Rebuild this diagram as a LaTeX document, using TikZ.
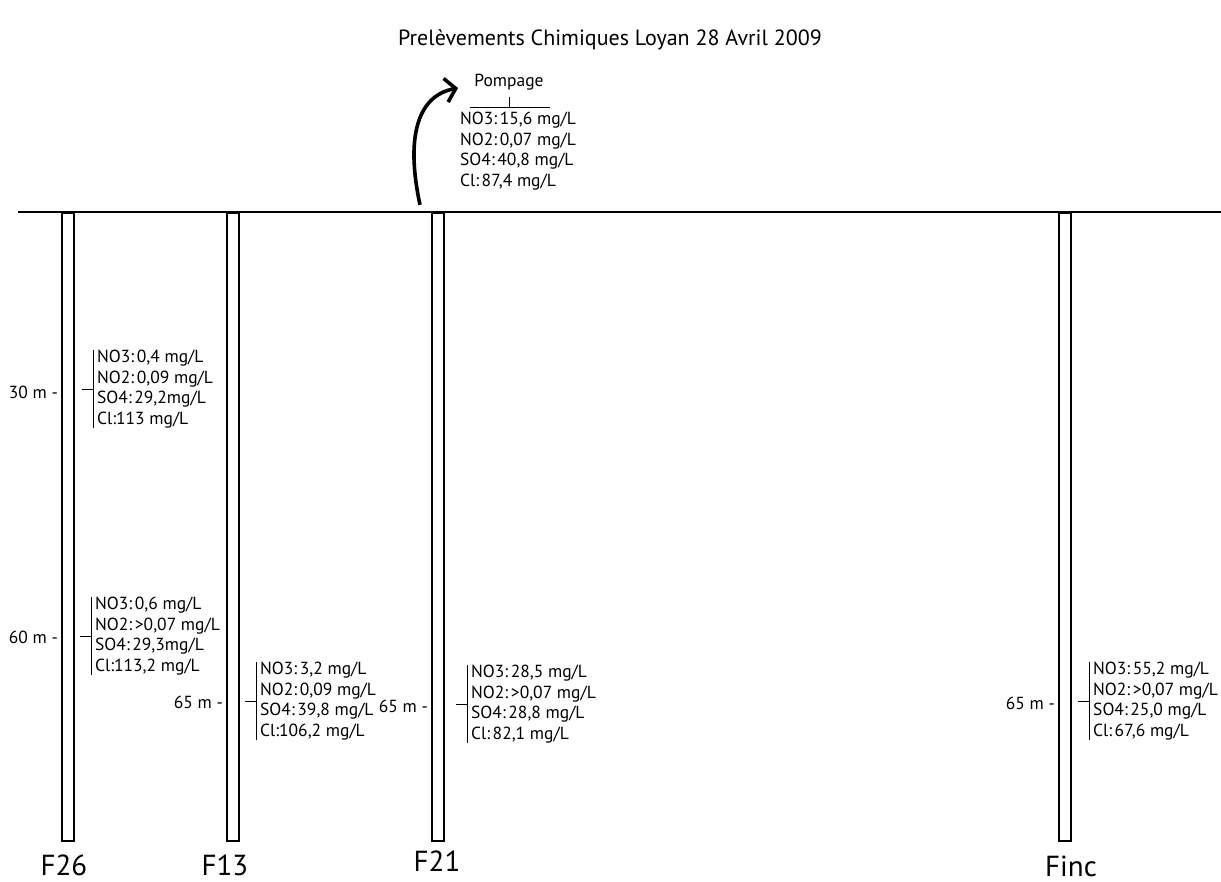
\documentclass[tikz,border=0pt]{standalone}
\usepackage{fontspec}
\setmainfont{PT Sans}
\usetikzlibrary{arrows.meta}
\newcommand{\trenn}{\hspace{2.6pt}}

\begin{document}
\begin{tikzpicture}[x=1pt, y=-1pt,
				brunnen/.style={draw, line width=2.4pt, minimum width=12pt, minimum height=628pt, inner sep=0pt},
				werte/.style={anchor=west, align=left, inner sep=0pt, font=\fontsize{17.5}{20.5}\selectfont},
				tiefe/.style={anchor=east, inner sep=0pt, font=\fontsize{17.5}{20}\selectfont},
				bname/.style={inner sep=0pt, font=\fontsize{29}{32}\selectfont},
				>={Straight Barb[length=10pt, width=24pt]}]
				%Bildbereich
				\useasboundingbox (0,0) rectangle (1221,882);
				%Titel
				\node[font=\fontsize{22}{25}\selectfont] (titel) at (610,40) {Prelèvements Chimiques Loyan 28 Avril 2009};
				%Bodenlinie
				\coordinate (bl) at (18,212);
				\coordinate (br) at (1221,212);
				\draw[line width=2.6pt] (bl) -- (br);
				%Brunnen zeichnen
				\node[brunnen] (f26) at (68,527) {};
				\node[brunnen] (f13) at (233,527) {};
				\node[brunnen] (f21) at (438,527) {};
				\node[brunnen] (finc) at (1065,527) {};
				% Brunnen beschriften
				\node[bname] (f26name) at (64,865) {F26};
				\node[bname] (f13name) at (225,865) {F13};
				\node[bname] (f21name) at (437,861) {F21};
				\node[bname] (fincname) at (1071,866) {Finc};
				% Tiefen
				\node[tiefe] (t30) at (58,392) {30 m -};
				\node[tiefe] (t60) at (58,637) {60 m -};
				\node[tiefe] (t13) at (223,702) {65 m -};
				\node[tiefe] (t21) at (428,706) {65 m -};
				\node[tiefe] (tinc) at (1055,703) {65 m -};
				%Messwerte
				\node[werte] (w30) at (97,389) {NO3:\trenn0,4 mg/L\\NO2:\trenn0,09 mg/L\\SO4:\trenn29,2mg/L\\Cl:113 mg/L};
				\node[werte] (w60) at (95,636) {NO3:\trenn0,6 mg/L\\NO2:\trenn>0,07 mg/L\\SO4:\trenn29,3mg/L\\Cl:113,2 mg/L};
				\node[werte] (w13) at (260,701) {NO3:\trenn3,2 mg/L\\NO2:\trenn0,09 mg/L\\SO4:\trenn39,8 mg/L\\Cl:106,2 mg/L};
				\node[werte] (w21) at (471,704) {NO3:\trenn28,5 mg/L\\NO2:\trenn>0,07 mg/L\\SO4:\trenn28,8 mg/L\\Cl:\trenn82,1 mg/L};
				\node[werte] (winc) at (1093,701) {NO3:\trenn55,2 mg/L\\NO2:\trenn>0,07 mg/L\\SO4:\trenn25,0 mg/L\\Cl:\trenn67,6 mg/L};
				% Klammern vor den Werten
				\foreach \w in {w30,w60,w13,w21,winc}
					\draw[line width=0.9pt] ([xshift=-3.5pt]\w.north west) -- ([xshift=-3.5pt]\w.south west)
						([xshift=-3.5pt]\w.west) -- ++(-12,0);
				%Pompage
				\node[font=\fontsize{17.5}{20}\selectfont, inner sep=0pt] (pomp) at (509,82) {Pompage};
				\node[werte] (wpomp) at (460,151) {NO3:\trenn15,6 mg/L\\NO2:\trenn0,07 mg/L\\SO4:\trenn40,8 mg/L\\Cl:\trenn87,4 mg/L};
				\coordinate (pl) at (470,107);
				\coordinate (pr) at (550,107);
				\draw[line width=0.9pt] (pl) -- (pr) (pomp.south |- pl) -- ++(0,-10);
				%Pfeil
				\coordinate (pfeil) at (458,88);
				\draw[->, line width=3.6pt] ([shift={(-18,-7)}]f21.north) .. controls (406,140) and (416,96) .. (pfeil);
			\end{tikzpicture}
\end{document}
